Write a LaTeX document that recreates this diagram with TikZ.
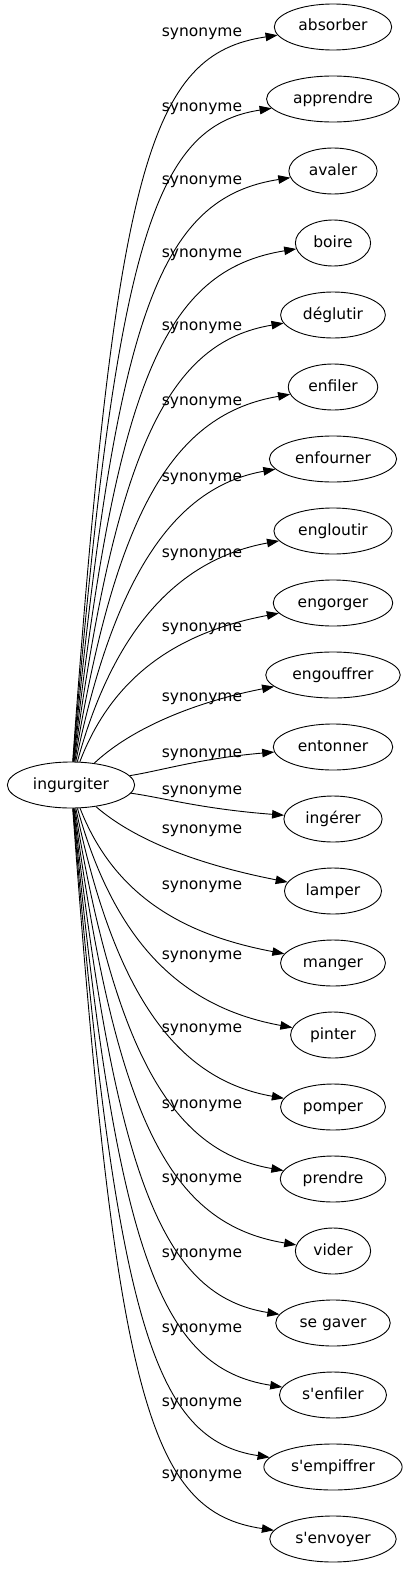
\documentclass[tikz,border=0pt]{standalone}
\usepackage{fontspec}
\setmainfont{DejaVu Sans}[Ligatures=TeXOff]
\usetikzlibrary{arrows.meta,shapes.geometric}

\begin{document}
\begin{tikzpicture}[x=1pt, y=-1pt, >={Triangle[length=12pt,width=8.5pt]},
	word/.style={draw, ellipse, line width=0.9pt, minimum height=46pt, inner xsep=7pt, inner ysep=2pt,
		text height=11.5pt, text depth=3.5pt, font=\fontsize{15.5}{18}\selectfont},
	rel/.style={inner sep=0pt, text height=11.5pt, text depth=3.5pt, font=\fontsize{15.5}{18}\selectfont},
	link/.style={->, line width=0.9pt}]
	
	\useasboundingbox (0,0) rectangle (412,1571);
	
	% ----- LEFT: the headword
	\node[word] (root) at (71,785) {ingurgiter};
	
	% ----- RIGHT: the synonyms, one every 72px
	\foreach \w [count=\i from 0] in {absorber, apprendre, avaler, boire, déglutir, enfiler,
		enfourner, engloutir, engorger, engouffrer, entonner, ingérer, lamper, manger, pinter,
		pomper, prendre, vider, se gaver, s'enfiler, s'empiffrer, s'envoyer} {
		\pgfmathsetmacro{\yt}{27+72*\i}
		\node[word] (t\i) at (333,\yt) {\w};
	}
	
	% ----- MIDDLE: edge labels
	\foreach \ly [count=\i from 0] in {33,107,180,253,326,401,477,553,627,697,753,
		790,829,885,955,1028,1104,1178,1253,1328,1402,1474} {
		\node[rel] (l\i) at (202,\ly) {synonyme};
	}
	
	% edges: steep out of the headword, flat into the synonym
	\foreach \i in {0,...,21} {
		\pgfmathsetmacro{\d}{785-(27+72*\i)}
		\pgfmathsetmacro{\ad}{abs(\d)}
		\pgfmathsetmacro{\sg}{\d>0 ? 1 : -1}
		\pgfmathsetmacro{\k}{\ad<254 ? min(0.65,0.3+0.002*\ad) : 0.65+0.000337*(\ad-254)}
		\pgfmathsetmacro{\ax}{116+0.4*max(0,150-\ad)}
		\pgfmathsetmacro{\ay}{785-\k*\d}
		\pgfmathsetmacro{\bx}{203-0.07*\ad}
		\pgfmathsetmacro{\by}{27+72*\i+\sg*min(27,0.3*\ad)}
		\draw[link] (root) .. controls (\ax,\ay) and (\bx,\by) .. (t\i);
	}
	
\end{tikzpicture}
\end{document}
